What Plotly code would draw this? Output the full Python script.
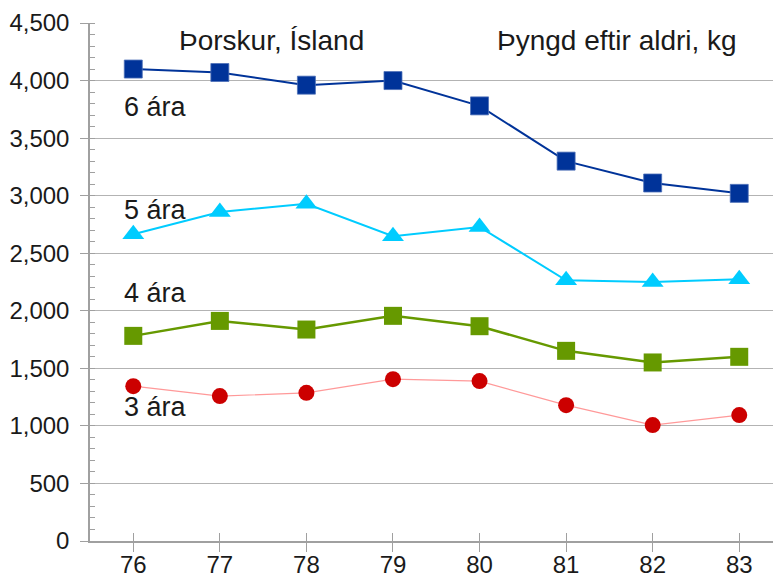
import plotly.graph_objects as go

years = [76, 77, 78, 79, 80, 81, 82, 83]
year_labels = ["76", "77", "78", "79", "80", "81", "82", "83"]

age6 = [4100, 4070, 3960, 4000, 3780, 3300, 3110, 3020]
age5 = [2665, 2858, 2930, 2647, 2728, 2265, 2251, 2274]
age4 = [1782, 1912, 1837, 1956, 1866, 1652, 1551, 1600]
age3 = [1345, 1259, 1287, 1406, 1389, 1180, 1007, 1094]

y_ticks = [0, 500, 1000, 1500, 2000, 2500, 3000, 3500, 4000, 4500]

series_labels = ["6 ára", "5 ára", "4 ára", "3 ára"]
title_left = "Þorskur, Ísland"
title_right = "Þyngd eftir aldri, kg"

TICKFONT = dict(family="Liberation Sans, Arial", size=24, color="#1a1a1a")
TEXTFONT = dict(family="Liberation Sans, Arial", size=27, color="#1a1a1a")
TITLEFONT = dict(family="Liberation Sans, Arial", size=28, color="#1a1a1a")

X_RANGE = [75.5, 83.39]
Y_RANGE = [0, 4500]
AXCOL = "#a0a0a0"

fig = go.Figure()

fig.add_trace(go.Scatter(
    x=years, y=age3, mode="lines+markers", name=series_labels[3],
    line=dict(color="#ff9999", width=1.2),
    marker=dict(symbol="circle", size=16, color="#cc0000", line=dict(width=0)),
))
fig.add_trace(go.Scatter(
    x=years, y=age4, mode="lines+markers", name=series_labels[2],
    line=dict(color="#669900", width=2.5),
    marker=dict(symbol="square", size=18, color="#669900", line=dict(width=0)),
))
fig.add_trace(go.Scatter(
    x=years, y=age5, mode="lines+markers", name=series_labels[1],
    line=dict(color="#00ccff", width=2),
    marker=dict(symbol="triangle-up", size=19, color="#00ccff", line=dict(width=0)),
))
fig.add_trace(go.Scatter(
    x=years, y=age6, mode="lines+markers", name=series_labels[0],
    line=dict(color="#003399", width=2),
    marker=dict(symbol="square", size=18, color="#003399", line=dict(width=0.8, color="#4d70b8")),
))
# invisible helper trace so the overlay axes (inner x ticks, gridlines) get drawn
fig.add_trace(go.Scatter(
    x=years[:1], y=age3[:1], xaxis="x2", yaxis="y2", mode="markers",
    marker=dict(opacity=0), hoverinfo="skip", showlegend=False,
))

annotations = [
    dict(text=title_left, x=0.266, y=0.966, xanchor="center", yanchor="middle", font=TITLEFONT),
    dict(text=title_right, x=0.771, y=0.966, xanchor="center", yanchor="middle", font=TITLEFONT),
    dict(text=series_labels[0], x=0.047, y=0.837, xanchor="left", yanchor="middle", font=TEXTFONT),
    dict(text=series_labels[1], x=0.047, y=0.639, xanchor="left", yanchor="middle", font=TEXTFONT),
    dict(text=series_labels[2], x=0.047, y=0.479, xanchor="left", yanchor="middle", font=TEXTFONT),
    dict(text=series_labels[3], x=0.047, y=0.259, xanchor="left", yanchor="middle", font=TEXTFONT),
]
for a in annotations:
    a.update(xref="paper", yref="paper", showarrow=False)

fig.update_layout(
    width=773, height=580,
    margin=dict(l=90, r=0, t=23, b=39, pad=0),
    paper_bgcolor="white", plot_bgcolor="white",
    showlegend=False,
    annotations=annotations,
    xaxis=dict(
        range=X_RANGE, tickmode="array", tickvals=years, ticktext=year_labels,
        showgrid=False, zeroline=False, showline=True, linecolor=AXCOL, linewidth=1.5,
        ticks="outside", ticklen=9, tickcolor=AXCOL, tickwidth=1,
        ticklabelstandoff=-8, automargin=False,
        tickfont=TICKFONT,
    ),
    xaxis2=dict(
        overlaying="x", anchor="y2", side="bottom",
        range=X_RANGE, tickmode="array", tickvals=years,
        showgrid=False, zeroline=False, showline=False,
        ticks="inside", ticklen=8, tickcolor=AXCOL, tickwidth=1, showticklabels=False,
        automargin=False,
    ),
    yaxis=dict(
        range=Y_RANGE, tickmode="array", tickvals=y_ticks, tickformat=",d",
        showgrid=False,
        zeroline=False, showline=True, linecolor=AXCOL, linewidth=1.5,
        ticks="outside", ticklen=8, tickcolor=AXCOL, tickwidth=1,
        ticklabelstandoff=6, automargin=False,
        minor=dict(ticks="inside", ticklen=5, dtick=100, tick0=0, tickcolor=AXCOL, showgrid=False),
        tickfont=TICKFONT,
    ),
    yaxis2=dict(
        overlaying="y", anchor="x2", side="left",
        range=Y_RANGE, tickmode="array", tickvals=y_ticks[1:-1],
        showgrid=True, gridcolor="#b3b3b3", gridwidth=1.2,
        zeroline=False, showline=False, ticks="", showticklabels=False,
        automargin=False,
    ),
)

fig.write_html(
    "out.html",
    config={"displayModeBar": False},
    post_script="document.body.style.margin='0';document.body.style.overflow='hidden';",
)
